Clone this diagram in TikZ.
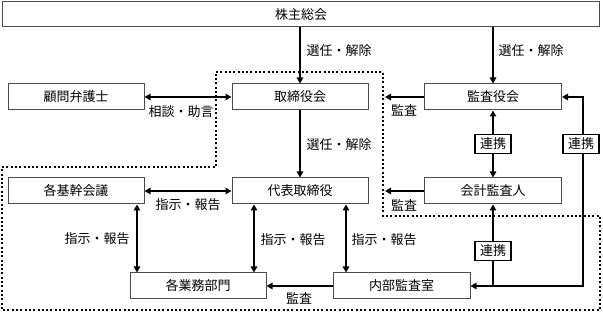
\documentclass[tikz,border=0pt]{standalone}
\usepackage{fontspec}
\newfontfamily\jp{Noto Sans CJK JP}
\usetikzlibrary{arrows.meta}
\begin{document}
\begin{tikzpicture}[x=1pt,y=-1pt,
 box/.style={draw=gray!60!black,line width=1pt,fill=white,minimum width=136pt,minimum height=26pt,inner sep=0pt,font=\jp\fontsize{13}{13}\selectfont},
 lbl/.style={inner sep=0pt,font=\jp\fontsize{13}{13}\selectfont},
 tag/.style={draw=black,line width=1.5pt,fill=white,minimum width=36pt,minimum height=19pt,inner sep=0pt,font=\jp\fontsize{13}{13}\selectfont},
 conn/.style={line width=1.8pt,-{Triangle[length=6pt,width=6.5pt]}},
 conn2/.style={line width=1.8pt,{Triangle[length=6pt,width=6.5pt]}-{Triangle[length=6pt,width=6.5pt]}},
 zone/.style={line width=2pt,dash pattern=on 2pt off 2.3pt}]
\useasboundingbox (0,0) rectangle (603,312);

% dotted zone
\draw[zone] (216,72) -- (383,72) -- (383,216) -- (600,216) -- (600,310) -- (2,310) -- (2,167) -- (216,167) -- cycle;

% boxes
\node[box,minimum width=597pt,minimum height=25pt] (gm) at (301,14.5) {株主総会};
\node[box] (komon) at (76,97) {顧問弁護士};
\node[box] (tori) at (300,97) {取締役会};
\node[box,minimum width=137pt] (kansa) at (493,97) {監査役会};
\node[box] (kikan) at (76,191) {各基幹会議};
\node[box] (daihyo) at (300,191) {代表取締役};
\node[box,minimum width=137pt] (kaikei) at (493,191) {会計監査人};
\node[box] (gyomu) at (198,286) {各業務部門};
\node[box,minimum width=137pt] (naibu) at (401.5,286) {内部監査室};

% helper coordinates
\coordinate (k1) at (385,97);
\coordinate (k2) at (385,191);
\coordinate (c1) at (137,0);
\coordinate (c2) at (254,0);
\coordinate (c3) at (346,0);
\coordinate (rt) at (583,0);

% connectors
\draw[conn] (gm.south -| tori.north) -- (tori.north);
\draw[conn] (gm.south -| kansa.north) -- (kansa.north);
\draw[conn2] (komon.east) -- (tori.west);
\draw[conn] (tori.south) -- (daihyo.north);
\draw[conn] (kansa.west) -- (k1);
\draw[conn] (kaikei.west) -- (k2);
\draw[conn2] (kikan.east) -- (daihyo.west);
\draw[conn2] (c1 |- kikan.south) -- (c1 |- gyomu.north);
\draw[conn2] (c2 |- daihyo.south) -- (c2 |- gyomu.north);
\draw[conn2] (c3 |- daihyo.south) -- (c3 |- naibu.north);
\draw[conn] (naibu.west) -- (gyomu.east);
\draw[conn2] (kansa.south) -- (kaikei.north);
\draw[conn] (naibu.east -| kaikei.south) -- (kaikei.south);
\draw[conn2] (naibu.east) -- (rt |- naibu.east) -- (rt |- kansa.east) -- (kansa.east);

% tags
\node[tag] (t1) at (493,144) {連携};
\node[tag] (t2) at (581,144) {連携};
\node[tag] (t3) at (493,251) {連携};

% labels
\node[lbl] (l1) at (339,51) {選任・解除};
\node[lbl] (l2) at (531,51) {選任・解除};
\node[lbl] (l3) at (181,112) {相談・助言};
\node[lbl] (l4) at (339,145) {選任・解除};
\node[lbl] (l5) at (404,110) {監査};
\node[lbl] (l6) at (404,205) {監査};
\node[lbl] (l7) at (188,205) {指示・報告};
\node[lbl] (l8) at (97,239) {指示・報告};
\node[lbl] (l9) at (293,240) {指示・報告};
\node[lbl] (l10) at (384,240) {指示・報告};
\node[lbl] (l11) at (299,298) {監査};
\end{tikzpicture}
\end{document}
